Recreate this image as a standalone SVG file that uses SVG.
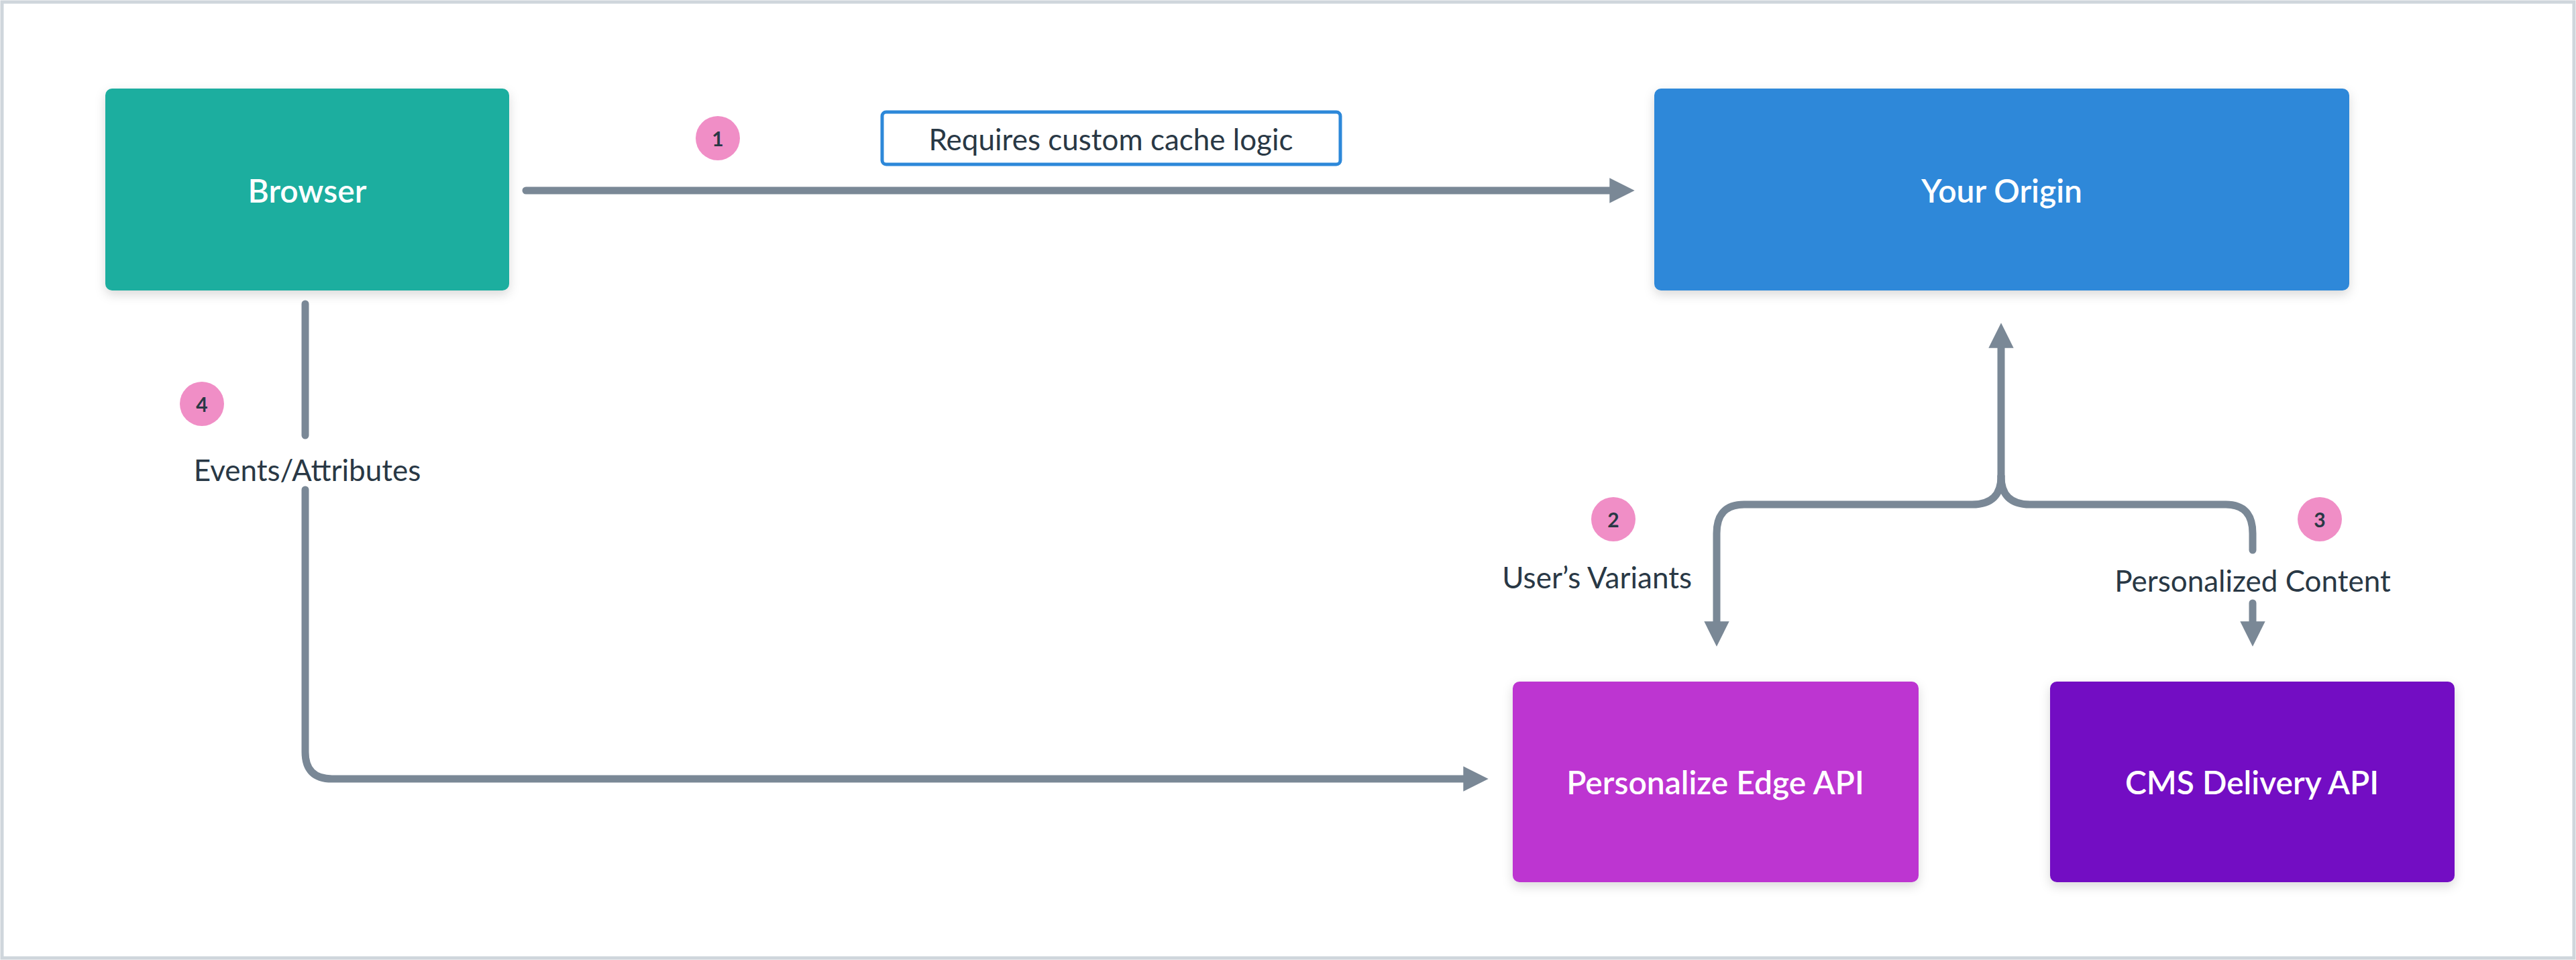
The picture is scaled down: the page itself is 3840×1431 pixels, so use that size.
<svg xmlns="http://www.w3.org/2000/svg" width="3840" height="1431" viewBox="0 0 3840 1431">
<style>
.node text{font-family:Lato,"Open Sans",sans-serif;font-size:48px;font-weight:600;fill:#fff;text-anchor:middle;dominant-baseline:central}
.lbl{font-family:Lato,"Open Sans",sans-serif;font-size:44px;fill:#293845;dominant-baseline:central}
.badge circle{fill:#f08ec6}
.badge text{font-family:Lato,sans-serif;font-size:30px;font-weight:700;fill:#293845;text-anchor:middle;dominant-baseline:central}
.conn path{fill:none;stroke:#7a8896;stroke-width:11;stroke-linecap:round;stroke-linejoin:round}
</style>
<defs>
<marker id="ah" viewBox="0 0 10 10" refX="5" refY="5" markerWidth="3.4" markerHeight="3.4" orient="auto" markerUnits="strokeWidth"><path d="M0,0 L10,5 L0,10 Z" fill="#7a8896"/></marker>
<filter id="sh" x="-10%" y="-10%" width="120%" height="130%"><feDropShadow dx="0" dy="6" stdDeviation="8" flood-color="#000" flood-opacity="0.15"/></filter>
</defs>
<rect x="3" y="3" width="3834" height="1425" fill="#fff" stroke="#cfd6dc" stroke-width="5"/>
<g class="node" id="browser"><rect x="157" y="132" width="602" height="301" rx="10" fill="#1aae9f" filter="url(#sh)"/><text x="458" y="283">Browser</text></g>
<g class="node" id="origin"><rect x="2466" y="132" width="1036" height="301" rx="10" fill="#2d88d9" filter="url(#sh)"/><text x="2984" y="283">Your Origin</text></g>
<g class="node" id="edge"><rect x="2255" y="1016" width="605" height="299" rx="10" fill="#bd34d1" filter="url(#sh)"/><text x="2557" y="1165">Personalize Edge API</text></g>
<g class="node" id="cms"><rect x="3056" y="1016" width="603" height="299" rx="10" fill="#730fc3" filter="url(#sh)"/><text x="3357" y="1165">CMS Delivery API</text></g>
<g class="conn">
<path d="M784,284 L2418,284" marker-end="url(#ah)"/>
<path d="M455,453 L455,649"/>
<path d="M455,730 L455,1121 Q455,1161 495,1161 L2200,1161" marker-end="url(#ah)"/>
<path d="M2983,710 L2983,500" marker-end="url(#ah)"/>
<path d="M2983,710 Q2983,752 2940,752 L2600,752 Q2559,752 2559,795 L2559,945" marker-end="url(#ah)"/>
<path d="M2983,710 Q2983,752 3026,752 L3318,752 Q3358,752 3358,795 L3358,820"/>
<path d="M3358,899 L3358,945" marker-end="url(#ah)"/>
</g>
<g id="label1"><rect x="1315" y="167" width="683" height="78" rx="6" fill="#fff" stroke="#2d88d9" stroke-width="5"/><text class="lbl" x="1656" y="207" text-anchor="middle" font-size="40">Requires custom cache logic</text></g>
<text class="lbl" x="458" y="700" text-anchor="middle">Events/Attributes</text>
<text class="lbl" x="2522" y="860" text-anchor="end">User’s Variants</text>
<text class="lbl" x="3358" y="865" text-anchor="middle">Personalized Content</text>
<g class="badge"><circle cx="1070" cy="206" r="33"/><text x="1070" y="206">1</text></g>
<g class="badge"><circle cx="2405" cy="774" r="33"/><text x="2405" y="774">2</text></g>
<g class="badge"><circle cx="3458" cy="774" r="33"/><text x="3458" y="774">3</text></g>
<g class="badge"><circle cx="301" cy="602" r="33"/><text x="301" y="602">4</text></g>
</svg>
